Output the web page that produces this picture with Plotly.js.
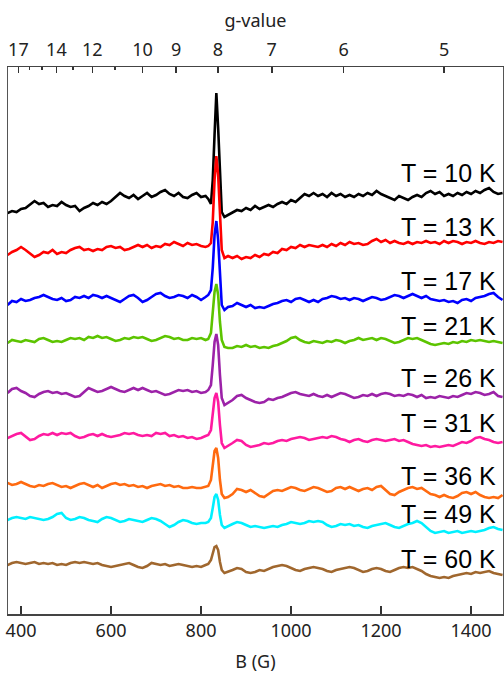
<!DOCTYPE html>
<html>
<head>
<meta charset="utf-8">
<script src="https://cdn.plot.ly/plotly-3.0.1.min.js"></script>
<style>html,body{margin:0;padding:0;background:#fff;}#chart{width:504px;height:673px;}</style>
</head>
<body>
<div id="chart"></div>
<script>
// Magnetic field (G)
const field = [
370,380,390,400,410,420,430,440,450,460,
470,480,490,500,510,520,530,540,550,560,
570,580,590,600,610,620,630,640,650,660,
670,680,690,700,710,720,730,740,750,760,
770,780,790,800,
810,816,822,826,830,834,838,842,846,852,860,
870,880,890,900,910,920,930,940,950,960,
970,980,990,1000,1010,1020,1030,1040,1050,1060,
1070,1080,1090,1100,1110,1120,1130,1140,1150,1160,
1170,1180,1190,1200,1210,1220,1230,1240,1250,1260,
1270,1280,1290,1300,1310,1320,1330,1340,1350,1360,
1370,1380,1390,1400,1410,1420,1430,1440,1450,1460,1470
];

const temps = ['T = 10 K','T = 13 K','T = 17 K','T = 21 K','T = 26 K','T = 31 K','T = 36 K','T = 49 K','T = 60 K'];
const colors = ['#000000','#ff0000','#0000ff','#5cc400','#9c22a8','#ff1aa0','#ff6a10','#00f0ff','#a0672e'];
// vertical stacking offsets (arbitrary intensity units)
const offsets = [401, 359, 309, 271, 221, 176, 131, 94, 49];

// EPR signal of each spectrum (arbitrary units), relative to its offset
const s10K = [
0,2,1,4,5,9,12,9,10,6,
8,7,11,8,6,7,2,5,7,10,
8,11,9,12,16,20,17,15,18,14,
17,20,16,18,21,23,19,17,20,16,
15,18,20,16,
17,14,9,33,78,120,85,33,1,-4,-2,
0,3,2,5,3,7,4,6,8,6,
9,11,9,13,11,15,19,17,20,17,
19,16,20,17,19,16,18,16,19,17,
20,18,22,19,17,15,13,17,15,13,
16,18,16,20,22,19,21,17,19,17,
20,18,21,19,22,20,23,25,21,19,20
];
const s13K = [
0,3,5,8,5,1,-2,0,3,2,
5,1,3,2,5,7,8,5,6,4,
6,5,8,9,7,8,5,6,8,10,
8,10,7,9,8,11,10,13,11,9,
12,10,11,9,
8,9,12,33,75,99,80,35,5,-3,-1,
-3,-1,-4,-2,-3,0,-2,1,0,3,
2,6,5,8,7,10,8,10,9,8,
10,8,11,9,12,10,13,11,12,10,
11,14,16,13,15,12,14,12,11,13,
11,13,12,14,12,13,11,14,12,14,
13,11,13,12,14,12,11,13,12,14,13
];
const s17K = [
0,4,3,6,4,5,7,8,10,8,
6,5,7,4,5,8,7,9,7,10,
9,7,9,7,5,3,6,9,10,7,
3,5,8,11,12,9,7,8,10,9,
7,10,8,5,
8,10,15,37,70,84,65,25,0,-5,-2,
-1,2,0,-2,0,-3,-2,-3,-1,1,
2,4,5,3,6,7,5,3,5,3,
6,7,9,8,6,7,5,7,6,4,
6,8,7,5,6,8,10,9,7,9,
11,9,7,9,6,5,4,5,3,4,
2,5,6,4,7,8,9,11,12,8,5
];
const s21K = [
0,3,2,1,3,2,1,4,5,3,
1,2,1,3,5,4,5,3,6,5,
7,5,6,4,2,3,5,4,6,5,
6,4,2,3,5,7,6,4,5,3,
3,5,4,5,
3,4,10,28,51,59,48,21,3,-4,-5,
-5,-3,-4,-2,-4,-3,-5,-4,-5,-3,
-2,0,2,5,6,3,1,0,2,1,
0,2,1,3,2,0,2,3,5,3,
4,5,3,5,4,2,0,1,3,5,
4,5,3,1,-1,-2,-1,0,-1,1,
0,2,1,3,2,3,2,1,2,1,0
];
const s26K = [
0,4,5,2,0,-3,-4,-1,1,2,
0,1,-1,0,-2,-4,-3,1,5,3,
1,2,4,6,4,2,1,3,5,3,
5,3,1,2,0,-2,-1,1,3,2,
3,1,2,0,
1,3,8,28,51,59,48,18,-5,-12,-10,
-7,-3,-2,-5,-7,-9,-10,-9,-6,-7,
-5,-4,-2,0,1,-1,-2,-3,-1,-3,
-4,-2,-4,-2,0,-1,-3,-5,-4,-2,
-3,-1,-3,-1,0,-1,-3,-2,-3,-1,
-2,-4,-2,-5,-4,-5,-3,-4,-5,-3,
-4,-2,0,-1,1,0,-2,-1,1,-3,-4
];
const s31K = [
0,2,4,5,1,-2,-1,2,4,3,
5,3,5,4,5,2,0,1,3,4,
2,4,2,1,2,3,5,4,5,3,
2,3,2,5,4,5,2,3,1,2,
0,1,-1,0,
2,3,8,23,40,45,36,13,-5,-10,-8,
-5,-2,-3,-7,-9,-8,-7,-5,-6,-5,
-3,-2,-3,-1,0,1,0,-2,-1,0,
1,0,2,1,-1,-2,-4,-2,-1,-3,
-4,-2,-1,-2,-3,-2,-1,-3,-2,-4,
-6,-7,-8,-7,-9,-8,-9,-8,-7,-8,
-6,-4,-5,-3,0,1,-1,-2,-4,-5,-4
];
const s36K = [
0,-2,-1,1,-1,-3,-4,-2,-3,-1,
0,-2,-4,-3,-5,-3,-1,0,-2,-4,
-2,-5,-3,-1,0,-2,-1,-3,-2,-4,
-3,-5,-3,-2,-1,-3,-2,-4,-3,-5,
-5,-4,-5,-5,
-4,-3,3,18,32,35,25,3,-11,-15,-14,
-11,-6,-7,-9,-7,-10,-13,-14,-11,-8,
-7,-8,-6,-4,-5,-7,-8,-6,-4,-5,
-7,-9,-8,-5,-4,-6,-4,-6,-8,-6,
-5,-7,-4,-3,-7,-11,-12,-9,-7,-5,
-4,-6,-5,-8,-11,-12,-14,-12,-14,-15,
-13,-10,-9,-11,-9,-12,-14,-15,-14,-15,-12
];
const s49K = [
0,2,3,2,1,3,2,1,0,1,
3,6,7,2,0,1,3,2,0,-1,
-2,1,3,2,0,-2,-1,1,0,-1,
-2,0,2,1,-1,-4,-7,-5,-2,0,
-1,-3,-4,-3,
-3,-2,2,12,23,26,20,5,-5,-8,-6,
-4,-2,-3,-5,-7,-6,-7,-8,-7,-6,
-7,-5,-4,-2,-3,-4,-3,-1,-2,-1,
-2,-5,-7,-6,-4,-5,-4,-6,-5,-7,
-8,-6,-5,-4,-3,-5,-7,-8,-6,-4,
-3,-1,-3,-7,-11,-13,-12,-11,-13,-12,
-11,-13,-12,-11,-12,-11,-10,-8,-7,-9,-10
];
const s60K = [
0,2,3,2,1,2,3,1,2,1,
2,0,1,0,2,3,2,3,2,1,
2,0,-1,-2,-1,0,1,2,0,-2,
-3,-1,2,1,0,1,-1,0,1,0,
-1,-2,-1,-2,
0,1,5,11,18,19,15,3,-5,-8,-7,
-5,-3,-4,-7,-8,-7,-5,-6,-4,-2,
-1,0,-1,-3,-5,-6,-4,-3,-2,-3,
-4,-6,-7,-5,-4,-3,-2,-3,-5,-7,
-6,-4,-3,-4,-6,-7,-5,-3,-2,-3,
-2,-4,-6,-9,-11,-12,-13,-12,-13,-11,
-10,-9,-8,-9,-7,-8,-7,-6,-8,-9,-10
];
const signals = [s10K, s13K, s17K, s21K, s26K, s31K, s36K, s49K, s60K];

// g-value axis: g = C / B  (C = h*nu/muB in G)
const gConst = 6700;
const gMajor = [17, 14, 12, 10, 9, 8, 7, 6, 5];
const gMinor = [16, 15, 13, 11];

const xRange = [371, 1471];
const labelY = [171.5, 226, 280, 325, 377, 421.5, 475, 513, 557.5]; // label positions (px from top)

const traces = signals.map((s, i) => ({
  x: field,
  y: s.map(v => v + offsets[i]),
  type: 'scatter',
  mode: 'lines',
  line: {color: colors[i], width: 2.6},
  name: temps[i],
  hoverinfo: 'skip'
}));
// dummy traces to activate top axes
traces.push({x: [xRange[0]], y: [0], xaxis: 'x2', mode: 'markers', marker: {opacity: 0}, showlegend: false, hoverinfo: 'skip'});
traces.push({x: [xRange[0]], y: [0], xaxis: 'x3', mode: 'markers', marker: {opacity: 0}, showlegend: false, hoverinfo: 'skip'});

const tickFont = {family: '"Noto Sans", "Open Sans", sans-serif', size: 18, color: '#222'};

const annotations = temps.map((t, i) => ({
  text: t,
  xref: 'paper', yref: 'paper',
  x: 0.99, y: (614 - labelY[i] - 1) / 547,
  xanchor: 'right', yanchor: 'middle',
  showarrow: false,
  font: {family: 'Arial, "Liberation Sans", sans-serif', size: 25, color: '#000'}
}));

const layout = {
  width: 504, height: 673,
  margin: {l: 8, r: 1, t: 67, b: 59},
  paper_bgcolor: '#fff', plot_bgcolor: '#fff',
  showlegend: false,
  xaxis: {
    range: xRange,
    tickvals: [400, 600, 800, 1000, 1200, 1400],
    ticks: 'inside', ticklen: 8, tickwidth: 1.5, tickcolor: '#333',
    showline: true, linecolor: '#444', linewidth: 1.5, mirror: true,
    showgrid: false, zeroline: false,
    tickfont: tickFont,
    title: {text: 'B (G)', font: tickFont, standoff: 19}
  },
  xaxis2: {
    overlaying: 'x', side: 'top', anchor: 'y',
    range: xRange,
    tickvals: gMajor.map(g => gConst / g),
    ticktext: gMajor.map(String),
    ticks: 'inside', ticklen: 6, tickwidth: 1.5, tickcolor: '#333',
    ticklabelstandoff: 6,
    showline: false, showgrid: false, zeroline: false,
    tickfont: tickFont,
    title: {text: 'g-value', font: tickFont, standoff: 5}
  },
  xaxis3: {
    overlaying: 'x', side: 'top', anchor: 'y',
    range: xRange,
    tickvals: gMinor.map(g => gConst / g),
    ticktext: gMinor.map(() => ''),
    showticklabels: false,
    ticks: 'inside', ticklen: 3, tickwidth: 1.5, tickcolor: '#333',
    showline: false, showgrid: false, zeroline: false
  },
  yaxis: {
    range: [0, 547],
    showticklabels: false, ticks: '',
    showline: true, linecolor: '#555', linewidth: 1.5, mirror: true,
    showgrid: false, zeroline: false, fixedrange: true
  },
  annotations: annotations
};

Plotly.newPlot('chart', traces, layout, {displayModeBar: false, staticPlot: true});
</script>
</body>
</html>
